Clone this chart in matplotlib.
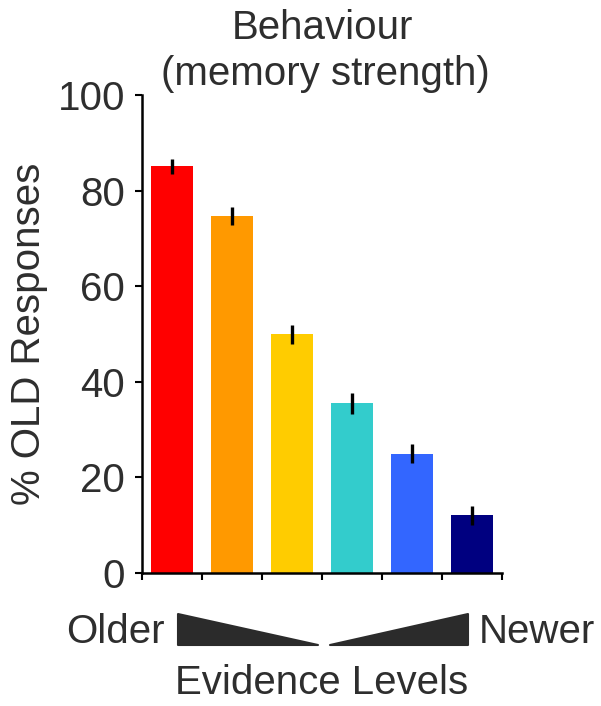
import numpy as np
import matplotlib.pyplot as plt
from matplotlib.patches import Polygon

plt.rcParams['font.family'] = ['Liberation Sans', 'DejaVu Sans']

# data
levels = ['1', '2', '3', '4', '5', '6']
pct_old = [85.1, 74.7, 49.9, 35.5, 25.0, 12.1]
sem = [1.6, 1.8, 2.0, 2.2, 2.0, 2.0]
colors = ['#ff0000', '#ff9900', '#ffcc00', '#33cccc', '#3366ff', '#000080']
txt = '#2e2e2e'
fs = 29

W, H = 601, 706
fig = plt.figure(figsize=(W / 100, H / 100), dpi=100)
ax = fig.add_axes([142 / W, 1 - 573 / H, 360 / W, 478 / H])

index = np.arange(len(levels))
ax.bar(index, pct_old, 0.69, color=colors, zorder=2)
ax.errorbar(index, pct_old, yerr=sem, fmt='none', ecolor='black', elinewidth=2.4, capsize=0, zorder=3)

ax.set_xlim(-0.5, len(levels) - 0.5)
ax.set_ylim(0, 100)
ax.set_xticks(np.arange(-0.5, len(levels)))
ax.set_xticklabels([])
ax.set_yticks([0, 20, 40, 60, 80, 100])
ax.tick_params(axis='both', direction='out', length=5, width=1.5, colors='black',
               labelsize=fs, labelcolor=txt, pad=7)
for s in ['top', 'right']:
    ax.spines[s].set_visible(False)
for s in ['left', 'bottom']:
    ax.spines[s].set_linewidth(1.8)

ax.set_ylabel('% OLD Responses', fontsize=fs, color=txt)
ax.yaxis.set_label_coords(-0.262, 0.5)
fig.text(322 / W, 1 - 28 / H, 'Behaviour', ha='center', va='center', fontsize=fs, color=txt)
fig.text(325 / W, 1 - 74 / H, '(memory strength)', ha='center', va='center', fontsize=fs, color=txt)

# evidence wedges under the axis
def fp(x, y):
    return (x / W, 1 - y / H)

tri_l = Polygon([fp(178, 614), fp(318, 645), fp(178, 645)], closed=True,
                transform=fig.transFigure, color='#2b2b2b', joinstyle='round', lw=1.5)
tri_r = Polygon([fp(468, 614), fp(468, 645), fp(330, 645)], closed=True,
                transform=fig.transFigure, color='#2b2b2b', joinstyle='round', lw=1.5)
fig.add_artist(tri_l)
fig.add_artist(tri_r)

fig.text(115 / W, 1 - 632 / H, 'Older', ha='center', va='center', fontsize=fs, color=txt)
fig.text(537 / W, 1 - 632 / H, 'Newer', ha='center', va='center', fontsize=fs, color=txt)
fig.text(322 / W, 1 - 683 / H, 'Evidence Levels', ha='center', va='center', fontsize=fs, color=txt)

fig.savefig('out.png', dpi=100)
